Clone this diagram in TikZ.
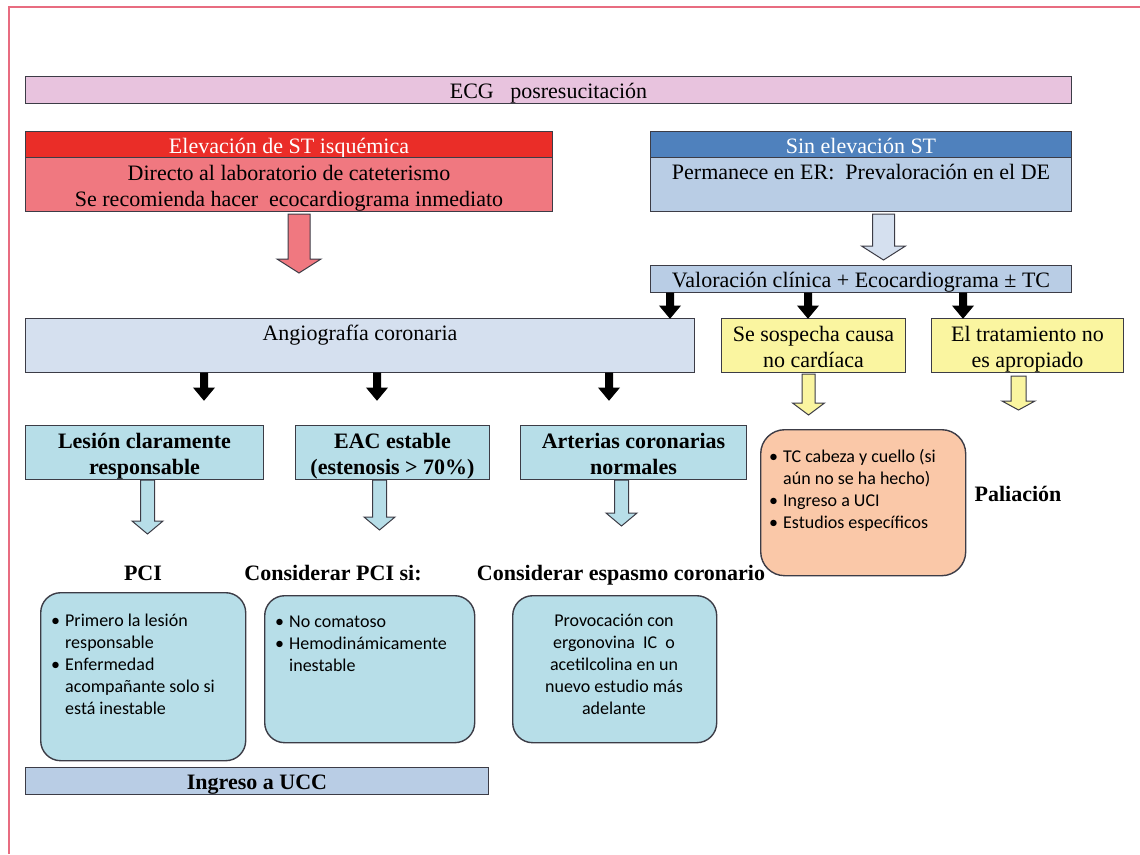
\documentclass[tikz,border=0pt]{standalone}
\usepackage{fontspec}
\setmainfont{Liberation Serif}
\newfontfamily\calibri{Carlito}
\usetikzlibrary{calc}
\newcommand{\topstrut}{\rule{0pt}{22pt}}
\newcommand{\botstrut}{\rule[-4.5pt]{0pt}{4.5pt}}
\definecolor{framepink}{RGB}{232,108,128}
\definecolor{boxline}{RGB}{60,60,70}
\definecolor{ecgfill}{RGB}{232,195,222}
\definecolor{redhead}{RGB}{234,45,40}
\definecolor{redbody}{RGB}{240,120,128}
\definecolor{bluehead}{RGB}{79,129,189}
\definecolor{bluebody}{RGB}{185,205,229}
\definecolor{angiofill}{RGB}{213,224,239}
\definecolor{yellowfill}{RGB}{250,245,160}
\definecolor{cyanfill}{RGB}{183,222,232}
\definecolor{peachfill}{RGB}{250,200,168}
\begin{document}
\begin{tikzpicture}[x=1pt,y=-1pt,
  box/.style={draw=boxline,line width=1pt,inner sep=0pt,anchor=north west,font=\fontsize{22}{26}\selectfont,
    execute at begin node=\topstrut,execute at end node=\botstrut},
  headbox/.style={box,text=white},
  roundbox/.style={draw=boxline,line width=1.4pt,rounded corners=20pt,inner sep=0pt,anchor=north west},
  heading/.style={anchor=base,font=\fontsize{22}{26}\selectfont\bfseries},
  bullets/.style={inner sep=0pt,font=\fontsize{18}{22}\calibri},
  blockarrow/.style n args={3}{draw=boxline,line width=1pt,to path={let \p1=(\tikztostart),\p2=(\tikztotarget) in
    (\x1-#1,\y1) -- (\x1+#1,\y1) -- (\x1+#1,\y2+#3) -- (\x1+#2,\y2+#3) -- (\x1,\y2)
    -- (\x1-#2,\y2+#3) -- (\x1-#1,\y2+#3) -- cycle}},
  bigarrow/.style={blockarrow={11pt}{22pt}{14pt}},
  darrow/.style={blockarrow={3.5pt}{10pt}{12pt},draw=black,fill=black},
  midarrow/.style={blockarrow={7pt}{15.5pt}{13pt},fill=cyanfill},
  yarrow/.style={blockarrow={6.5pt}{16pt}{12pt},fill=yellowfill}]
\useasboundingbox (0,0) rectangle (1140,854);
\draw[framepink,line width=1.2pt] (9,854) -- (9,7) -- (1140,7);

\node[box,fill=ecgfill,minimum width=1046pt,minimum height=27pt] (ecg) at (25,76) {ECG\ \ \ posresucitación};

\node[headbox,fill=redhead,minimum width=527pt,minimum height=26pt] (sthead) at (25,131) {Elevación de ST isquémica};
\node[box,fill=redbody,align=center,minimum width=527pt,minimum height=54pt] (stbody) at (25,157)
  {\topstrut Directo al laboratorio de cateterismo\\Se recomienda hacer\ \ ecocardiograma inmediato\botstrut};
\node[headbox,fill=bluehead,minimum width=421pt,minimum height=26pt] (nosthead) at (650,131) {Sin elevación ST};
\node[box,fill=bluebody,minimum width=421pt,minimum height=54pt,text height=16pt,text depth=26pt] (nostbody) at (650,157)
  {Permanece en ER:\ \ Prevaloración en el DE};
\node[box,fill=bluebody,minimum width=421pt,minimum height=27pt] (valor) at (650,265)
  {Valoración clínica + Ecocardiograma ± TC};

\node[box,fill=angiofill,minimum width=669pt,minimum height=54pt,text height=16pt,text depth=27pt] (angio) at (25,318)
  {Angiografía coronaria};
\node[box,fill=yellowfill,align=center,minimum width=184pt,minimum height=54pt] (noncard) at (721,318)
  {\topstrut Se sospecha causa\\no cardíaca\botstrut};
\node[box,fill=yellowfill,align=center,minimum width=192pt,minimum height=54pt] (notx) at (931,318)
  {\topstrut El tratamiento no\\es apropiado\botstrut};

\node[box,fill=cyanfill,align=center,font=\fontsize{22}{26}\selectfont\bfseries,minimum width=238pt,minimum height=54pt] (lesion) at (25,425)
  {\topstrut Lesión claramente\\responsable\botstrut};
\node[box,fill=cyanfill,align=center,font=\fontsize{22}{26}\selectfont\bfseries,minimum width=194pt,minimum height=54pt] (eac) at (295,425)
  {\topstrut EAC estable\\(estenosis > 70\%)\botstrut};
\node[box,fill=cyanfill,align=center,font=\fontsize{22}{26}\selectfont\bfseries,minimum width=226pt,minimum height=54pt] (normal) at (520,425)
  {\topstrut Arterias coronarias\\normales\botstrut};

\node[heading] (pcilabel) at (143,580) {PCI};
\node[heading] (considlabel) at (333,580) {Considerar PCI si:};
\node[heading] (spasmlabel) at (621,580) {Considerar espasmo coronario};
\node[heading] (palliation) at (1018,501) {Paliación};

\node[roundbox,fill=cyanfill,minimum width=205pt,minimum height=168pt] (pcibox) at (40,592) {};
\node[bullets,anchor=north west] (pcitext) at (51,611)
  {\begin{tabular}{@{}p{14pt}@{}l@{}}
   \textbullet & Primero la lesión\\
   & responsable\\
   \textbullet & Enfermedad\\
   & acompañante solo si\\
   & está inestable
   \end{tabular}};
\node[roundbox,fill=cyanfill,minimum width=210pt,minimum height=147pt] (considbox) at (264,595) {};
\node[bullets,anchor=north west] (considtext) at (275,612)
  {\begin{tabular}{@{}p{14pt}@{}l@{}}
   \textbullet & No comatoso\\
   \textbullet & Hemodinámicamente\\
   & inestable
   \end{tabular}};
\node[roundbox,fill=cyanfill,minimum width=204pt,minimum height=147pt] (spasmbox) at (512,595) {};
\node[bullets,anchor=north] (spasmtext) at (614,611)
  {\begin{tabular}{@{}c@{}}
   Provocación con\\
   ergonovina\ \ IC\ \ o\\
   acetilcolina en un\\
   nuevo estudio más\\
   adelante
   \end{tabular}};

\node[box,fill=bluebody,font=\fontsize{22}{26}\selectfont\bfseries,minimum width=463pt,minimum height=27pt] (ucc) at (25,767) {Ingreso a UCC};

\node[roundbox,fill=peachfill,rounded corners=24pt,minimum width=205pt,minimum height=146pt] (workup) at (760,429) {};
\node[bullets,anchor=north west] (workuptext) at (769,447)
  {\begin{tabular}{@{}p{14pt}@{}l@{}}
   \textbullet & TC cabeza y cuello (si\\
   & aún no se ha hecho)\\
   \textbullet & Ingreso a UCI\\
   \textbullet & Estudios específicos
   \end{tabular}};

\draw[bigarrow,fill=redbody] ([xshift=10pt,yshift=-2pt]stbody.south) to ([yshift=45pt]angio.north);
\draw[bigarrow,fill=angiofill] ([xshift=22.5pt,yshift=-2pt]nostbody.south) to ([yshift=5pt]valor.north);
\foreach \dx/\target in {20pt/angio,158pt/noncard,313pt/notx}
  \draw[darrow] ([xshift=\dx]valor.south west) to (\target.north);
\foreach \dx/\target in {179pt/lesion,352pt/eac,584pt/normal}
  \draw[darrow] ([xshift=\dx]angio.south west) to ([yshift=25pt]\target.north);
\foreach \src/\dx/\len in {lesion/3pt/54pt,eac/-13pt/50pt,normal/-12pt/46pt}
  \draw[midarrow] ([xshift=\dx]\src.south) to ([yshift=-\len]\src.south);
\draw[yarrow] ([xshift=-5pt,yshift=-1pt]noncard.south) to ([yshift=14pt]workup.north);
\draw[yarrow,blockarrow={7.5pt}{16.5pt}{9pt},fill=yellowfill] ([xshift=-9pt,yshift=-3pt]notx.south) to ([yshift=-37pt]notx.south);
\end{tikzpicture}
\end{document}
